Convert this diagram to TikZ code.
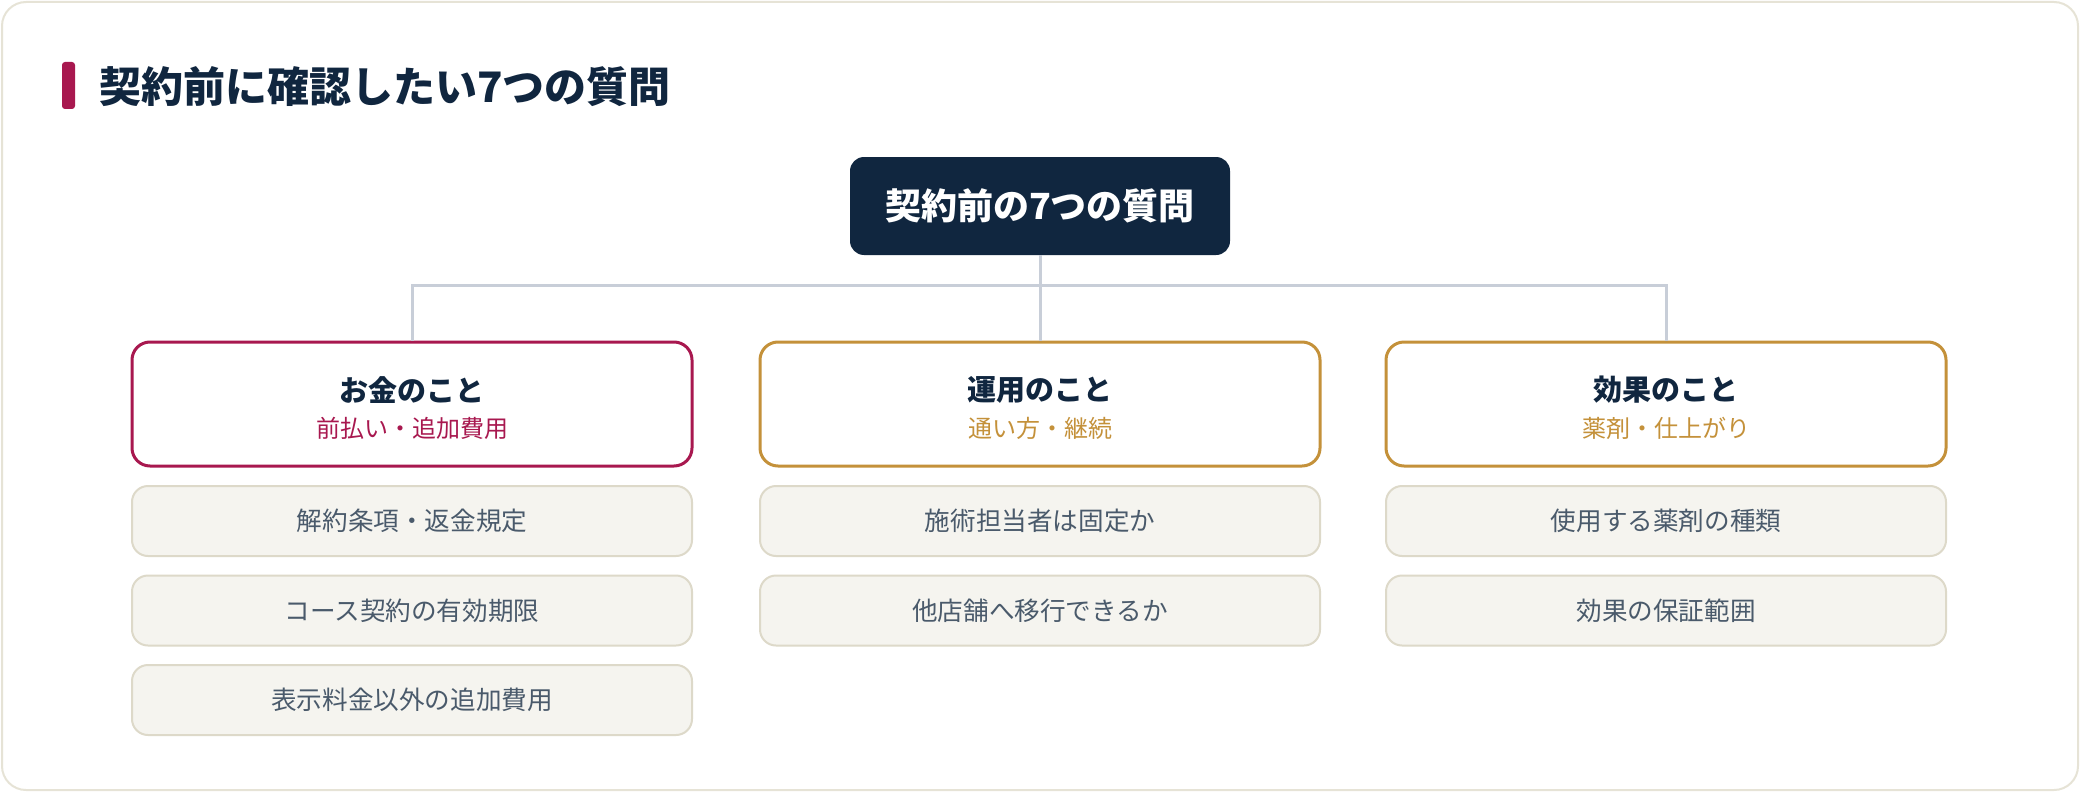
\documentclass[tikz,border=0pt]{standalone}
\usepackage{fontspec}
\setmainfont{Noto Sans CJK JP}
\usetikzlibrary{positioning}

\definecolor{navy}{HTML}{10263F}
\definecolor{crimson}{HTML}{A8184F}
\definecolor{gold}{HTML}{C4913A}
\definecolor{linegray}{HTML}{C8CED8}
\definecolor{itemfill}{HTML}{F5F4EF}
\definecolor{itemdraw}{HTML}{DDD9C9}
\definecolor{itemtext}{HTML}{4A5A6B}
\definecolor{framedraw}{HTML}{E6E3D6}

\tikzset {
  frame style/.style = {
    draw=framedraw,
    line width=1pt,
    fill=white,
    rounded corners=12pt
  },
  root style/.style = {
    fill=navy,
    text=white,
    rounded corners=7pt,
    minimum width=190pt,
    minimum height=49pt,
    font=\fontsize{18}{22}\selectfont\bfseries
  },
  cat style/.style = {
    draw=#1,
    line width=1.5pt,
    fill=white,
    rounded corners=9pt,
    minimum width=280pt,
    minimum height=62pt
  },
  cat title/.style = {
    text=navy,
    inner sep=0pt,
    font=\fontsize{14.5}{17}\selectfont\bfseries
  },
  cat sub/.style = {
    text=#1,
    inner sep=0pt,
    font=\fontsize{12}{14}\selectfont
  },
  item style/.style = {
    draw=itemdraw,
    line width=1pt,
    fill=itemfill,
    text=itemtext,
    rounded corners=8pt,
    minimum width=280pt,
    minimum height=35pt,
    font=\fontsize{12.8}{15}\selectfont
  },
  tree line/.style = {
    draw=linegray,
    line width=1.5pt
  }
}

\begin{document}
\begin{tikzpicture}[x=0.5pt, y=0.5pt, node distance=8.75pt]

\useasboundingbox (0,0) rectangle (2080,-792);

% --- Frame and heading ---
\draw[frame style] (2,-2) rectangle (2078,-790);
\fill[crimson, rounded corners=1.5pt] (62,-62) rectangle (75,-109);
\node[anchor=west, text=navy, font=\fontsize{21}{25}\selectfont\bfseries] (heading) at (92,-87)
  {契約前に確認したい7つの質問};

% --- Root ---
\node[root style] (root) at (1040,-206) {契約前の7つの質問};
\coordinate (hub) at (1040,-285);

% --- Categories ---
\node[cat style=crimson] (money)  at (412,-404)  {};
\node[cat style=gold]    (usage)  at (1040,-404) {};
\node[cat style=gold]    (effect) at (1666,-404) {};

\node[cat title] (money-t)  at ([yshift=7pt]money.center)  {お金のこと};
\node[cat sub=crimson] (money-s) at ([yshift=-12pt]money.center) {前払い・追加費用};
\node[cat title] (usage-t)  at ([yshift=7pt]usage.center)  {運用のこと};
\node[cat sub=gold] (usage-s) at ([yshift=-12pt]usage.center) {通い方・継続};
\node[cat title] (effect-t) at ([yshift=7pt]effect.center) {効果のこと};
\node[cat sub=gold] (effect-s) at ([yshift=-12pt]effect.center) {薬剤・仕上がり};

% --- Tree lines ---
\draw[tree line] (root.south) -- (hub);
\draw[tree line] (money.north) |- (hub) -| (effect.north);
\draw[tree line] (hub) -- (usage.north);

% --- Questions ---
\node[item style, below=of money] (m1) {解約条項・返金規定};
\node[item style, below=of m1]    (m2) {コース契約の有効期限};
\node[item style, below=of m2]    (m3) {表示料金以外の追加費用};

\node[item style, below=of usage] (u1) {施術担当者は固定か};
\node[item style, below=of u1]    (u2) {他店舗へ移行できるか};

\node[item style, below=of effect] (e1) {使用する薬剤の種類};
\node[item style, below=of e1]     (e2) {効果の保証範囲};

\end{tikzpicture}
\end{document}
